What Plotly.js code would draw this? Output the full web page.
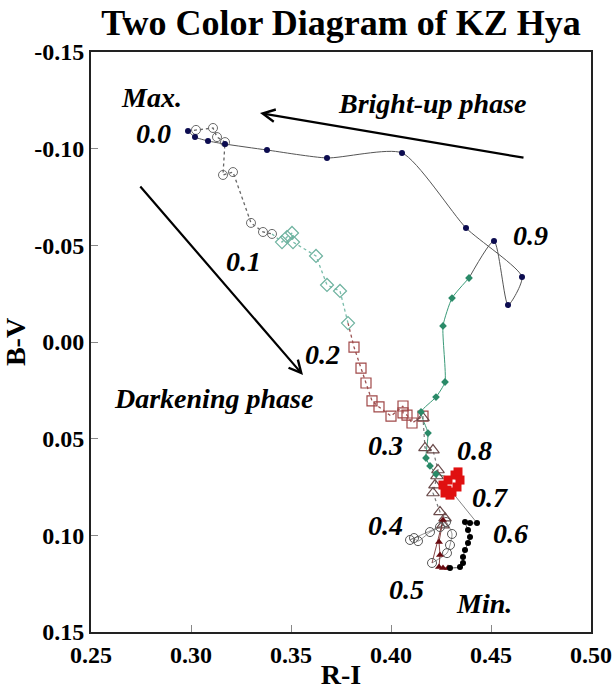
<!DOCTYPE html>
<html>
<head>
<meta charset="utf-8">
<script src="https://cdn.plot.ly/plotly-3.0.1.min.js"></script>
<style>html,body{margin:0;padding:0;background:#fff;}#chart{width:615px;height:690px;}</style>
</head>
<body>
<div id="chart"></div>
<script>
// Phase 0.9 -> 1.0 (bright-up), filled navy dots
const brightRI = [0.4515, 0.4585, 0.4655, 0.4375, 0.4055, 0.368, 0.338, 0.317, 0.3085, 0.302, 0.2985];
const brightBV = [-0.0522, -0.0191, -0.0336, -0.0590, -0.0978, -0.0952, -0.0993, -0.1024, -0.1040, -0.1060, -0.1091];
// Phase 0.0 -> 0.1, open grey circles
const p0RI = [0.3025, 0.311, 0.313, 0.317, 0.316, 0.321, 0.330, 0.336, 0.3405];
const p0BV = [-0.1097, -0.1107, -0.1060, -0.1034, -0.0864, -0.0879, -0.0616, -0.0569, -0.0559];
// Phase 0.1 -> 0.2, open teal diamonds
const p1RI = [0.3455, 0.348, 0.3505, 0.351, 0.3625, 0.368, 0.3745, 0.3785];
const p1BV = [-0.0517, -0.0543, -0.0564, -0.0517, -0.0445, -0.0295, -0.0264, -0.0098];
// Phase 0.2 -> 0.3, open brown squares
const p2RI = [0.3815, 0.385, 0.3875, 0.3905, 0.394, 0.400, 0.406, 0.406, 0.408, 0.4105, 0.416];
const p2BV = [0.0026, 0.0135, 0.0212, 0.0305, 0.0336, 0.0383, 0.0331, 0.0367, 0.0378, 0.0419, 0.0383];
// Phase 0.3 -> 0.4, open triangles
const p3RI = [0.416, 0.417, 0.421, 0.4235, 0.423, 0.422, 0.421, 0.4245, 0.427, 0.426];
const p3BV = [0.0393, 0.0548, 0.0559, 0.0662, 0.0693, 0.0740, 0.0781, 0.0879, 0.0911, 0.0947];
// Phase 0.4 -> 0.5, open grey circles
const p4RI = [0.4095, 0.4115, 0.4135, 0.4195, 0.4245, 0.4275, 0.4305, 0.4295, 0.428, 0.4205];
const p4BV = [0.1024, 0.1014, 0.1030, 0.0983, 0.0957, 0.0931, 0.0993, 0.1050, 0.1092, 0.1143];
// Phase 0.5, filled dark-red triangles
const p5RI = [0.426, 0.424, 0.4245, 0.424, 0.426, 0.4285];
const p5BV = [0.0921, 0.1035, 0.1102, 0.1164, 0.1169, 0.1169];
// Phase 0.6, filled black dots
const p6RI = [0.4295, 0.4345, 0.436, 0.436, 0.437, 0.4385, 0.4395, 0.4385, 0.437, 0.4395, 0.443];
const p6BV = [0.1169, 0.1164, 0.1143, 0.1112, 0.1076, 0.1040, 0.1009, 0.0972, 0.0931, 0.0936, 0.0936];
// Phase 0.7, filled red squares
const p7RI = [0.4305, 0.4295, 0.427, 0.428, 0.426, 0.4285, 0.432, 0.4335, 0.433, 0.4345];
const p7BV = [0.0776, 0.0792, 0.0781, 0.0766, 0.0740, 0.0714, 0.0688, 0.0672, 0.0750, 0.0714];
// Phase 0.8 -> 0.9, filled green dots
const p8RI = [0.4225, 0.4195, 0.4175, 0.4185, 0.415, 0.4225, 0.427, 0.426, 0.4305, 0.439];
const p8BV = [0.0683, 0.0641, 0.0600, 0.0471, 0.0362, 0.0285, 0.0207, -0.0083, -0.0227, -0.0331];

const xTicks = [0.25, 0.30, 0.35, 0.40, 0.45, 0.50];
const xTickText = ['0.25', '0.30', '0.35', '0.40', '0.45', '0.50'];
const yTicks = [-0.15, -0.10, -0.05, 0.00, 0.05, 0.10, 0.15];
const yTickText = ['-0.15', '-0.10', '-0.05', '0.00', '0.05', '0.10', '0.15'];

const SERIF = 'Liberation Serif, Times New Roman, serif';

function seg(xs, ys, prevX, prevY, color, dash, width, shape, smooth) {
  const x = prevX ? [prevX[prevX.length - 1]].concat(xs) : xs.slice();
  const y = prevY ? [prevY[prevY.length - 1]].concat(ys) : ys.slice();
  return {x: x, y: y, mode: 'lines', type: 'scatter', hoverinfo: 'skip',
          line: {color: color, dash: dash, width: width, shape: shape || 'linear', smoothing: smooth || 0.6}};
}
function pts(xs, ys, symbol, color, size, lw) {
  return {x: xs, y: ys, mode: 'markers', type: 'scatter',
          marker: {symbol: symbol, size: size, color: color, line: {color: color, width: lw}}};
}

const traces = [
  seg(p8RI, p8BV, null, null, '#3a9a78', 'solid', 1, 'spline', 0.5),
  seg(brightRI, brightBV, p8RI, p8BV, '#555555', 'solid', 1, 'spline', 0.6),
  seg(p0RI, p0BV, brightRI, brightBV, '#666666', 'dot', 1.3),
  seg(p1RI, p1BV, p0RI, p0BV, '#7abdab', 'dot', 1.3),
  seg(p2RI, p2BV, p1RI, p1BV, '#9a5050', 'dot', 1.3),
  seg(p3RI, p3BV, p2RI, p2BV, '#777777', 'dot', 1.2),
  seg(p4RI, p4BV, p3RI, p3BV, '#777777', 'solid', 0.8, 'spline', 0.6),
  seg(p5RI, p5BV, p4RI, p4BV, '#6a1a1a', 'solid', 0.8),
  seg(p6RI, p6BV, p5RI, p5BV, '#222222', 'solid', 0.8, 'spline', 0.6),
  seg(p7RI, p7BV, p6RI, p6BV, '#666666', 'solid', 0.8),
  seg(p8RI.slice(0, 1), p8BV.slice(0, 1), p7RI, p7BV, '#3a9a78', 'solid', 1),
  pts(p0RI, p0BV, 'circle-open', '#6a6a6a', 9, 1),
  pts(p1RI, p1BV, 'diamond-open', '#6fb3a0', 10, 1.2),
  pts(p2RI, p2BV, 'square-open', '#a04848', 10, 1.2),
  pts(p3RI, p3BV, 'triangle-up-open', '#6a4a4a', 11, 1.2),
  pts(p4RI, p4BV, 'circle-open', '#555555', 9, 1),
  pts(p5RI, p5BV, 'triangle-up', '#6a0a10', 7, 0),
  pts(p6RI, p6BV, 'circle', '#000000', 6, 0),
  pts(p7RI, p7BV, 'square', '#e01010', 9, 0),
  pts(p8RI, p8BV, 'diamond', '#2a8a68', 6, 0),
  pts(brightRI, brightBV, 'circle', '#0c0c50', 6, 0)
];
traces.forEach(t => t.showlegend = false);

const lab = {family: SERIF, size: 28, color: '#000', weight: 700, style: 'italic'};
function txt(x, y, text) {
  return {x: x, y: y, xref: 'x', yref: 'y', text: text, showarrow: false, font: lab,
          xanchor: 'center', yanchor: 'middle'};
}
function arrow(x, y, ax, ay) {
  return {x: x, y: y, ax: ax, ay: ay, xref: 'x', yref: 'y', axref: 'x', ayref: 'y', text: '',
          showarrow: true, arrowhead: 5, arrowsize: 1.1, arrowwidth: 2.2, arrowcolor: '#000'};
}

const layout = {
  width: 615, height: 690,
  margin: {l: 91, r: 24, t: 52, b: 58},
  paper_bgcolor: '#fff', plot_bgcolor: '#fff',
  title: {text: 'Two Color Diagram of KZ Hya', font: {family: SERIF, size: 36, color: '#000', weight: 700},
          xref: 'paper', x: 0.5, xanchor: 'center', yref: 'container', y: 0.968, yanchor: 'middle'},
  xaxis: {range: [0.25, 0.50], tickvals: xTicks, ticktext: xTickText, ticks: 'inside', ticklen: 7,
          tickcolor: '#888', tickwidth: 1, showgrid: false, zeroline: false, showline: true, mirror: true,
          linecolor: '#222', linewidth: 2, tickfont: {family: SERIF, size: 24, color: '#000', weight: 700},
          title: {text: 'R-I', font: {family: SERIF, size: 28, color: '#000', weight: 700}, standoff: 0}},
  yaxis: {range: [0.15, -0.15], tickvals: yTicks, ticktext: yTickText, ticks: 'inside', ticklen: 7,
          tickcolor: '#888', tickwidth: 1, showgrid: false, zeroline: false, showline: true, mirror: true,
          linecolor: '#222', linewidth: 2, tickfont: {family: SERIF, size: 24, color: '#000', weight: 700},
          title: {text: 'B-V', font: {family: SERIF, size: 28, color: '#000', weight: 700}, standoff: 0}},
  annotations: [
    txt(0.280, -0.1267, 'Max.'),
    txt(0.281, -0.1076, '0.0'),
    txt(0.4205, -0.1236, 'Bright-up phase'),
    txt(0.4695, -0.0553, '0.9'),
    txt(0.326, -0.0414, '0.1'),
    txt(0.3655, 0.0067, '0.2'),
    txt(0.311, 0.0290, 'Darkening phase'),
    txt(0.397, 0.0533, '0.3'),
    txt(0.4415, 0.0559, '0.8'),
    txt(0.4495, 0.0802, '0.7'),
    txt(0.397, 0.0947, '0.4'),
    txt(0.4595, 0.0988, '0.6'),
    txt(0.4075, 0.1278, '0.5'),
    txt(0.4465, 0.1355, 'Min.'),
    arrow(0.3345, -0.1184, 0.467, -0.0952),
    arrow(0.356, 0.0171, 0.274, -0.0812)
  ]
};

Plotly.newPlot('chart', traces, layout, {displayModeBar: false, staticPlot: true});
</script>
</body>
</html>
